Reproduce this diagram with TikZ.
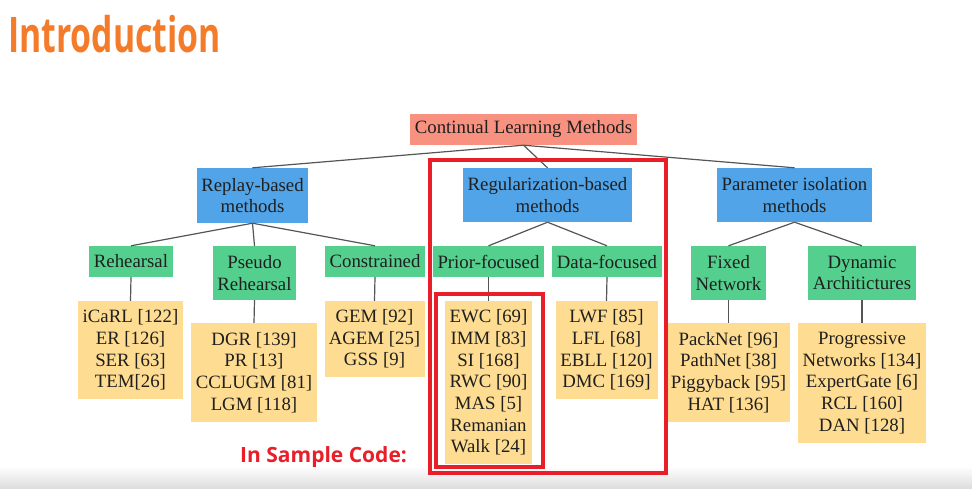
\documentclass[tikz,border=0pt]{standalone}
\usepackage{fontspec}
\setmainfont{Liberation Serif}
\newfontfamily\titlefont[FakeStretch=0.69]{Open Sans}
\newfontfamily\notefont{Open Sans}
\definecolor{introorange}{RGB}{244,123,42}
\definecolor{framered}{RGB}{232,30,40}
\definecolor{rootfill}{RGB}{249,145,128}
\definecolor{methodfill}{RGB}{82,164,232}
\definecolor{familyfill}{RGB}{84,207,141}
\definecolor{paperfill}{RGB}{254,220,145}
\definecolor{edgegrey}{RGB}{85,85,85}
\tikzset{
    box/.style={inner sep=0pt, align=center, text=black!88, font=\fontsize{18.8}{21.7}\selectfont},
    rootbox/.style={box, fill=rootfill},
    methodbox/.style={box, fill=methodfill, minimum height=54pt},
    familybox/.style={box, fill=familyfill},
    paperbox/.style={box, fill=paperfill},
    branch/.style={draw=edgegrey, line width=1.2pt},
    redframe/.style={draw=framered, line width=3.3pt}
}
\begin{document}
\begin{tikzpicture}[x=1pt, y=-1pt]
        \useasboundingbox (0,0) rectangle (972,488);
        \shade[top color=white, bottom color=black!13] (0,466) rectangle (972,488);
        \node[anchor=base west, text=introorange, font=\titlefont\bfseries\fontsize{49}{50}\selectfont, inner sep=0pt] (title) at (8,52) {Introduction};
        \node[rootbox, minimum width=227pt, minimum height=31pt] (clm) at (523.5,129.5) {Continual Learning Methods};
        \node[methodbox, minimum width=111pt, minimum height=55pt] (replay) at (252.5,195.5) {Replay-based\\methods};
        \node[methodbox, minimum width=169pt] (reg) at (547.5,195) {Regularization-based\\methods};
        \node[methodbox, minimum width=155pt] (param) at (794.5,195) {Parameter isolation\\methods};
        \node[familybox, minimum width=84pt, minimum height=31pt] (rehearsal) at (131,261.5) {Rehearsal};
        \node[familybox, minimum width=83pt, minimum height=54pt] (pseudo) at (254.5,273) {Pseudo\\Rehearsal};
        \node[familybox, minimum width=100pt, minimum height=31pt] (constrained) at (375,261.5) {Constrained};
        \node[familybox, minimum width=111pt, minimum height=31pt] (prior) at (488.5,261.5) {Prior-focused};
        \node[familybox, minimum width=110pt, minimum height=31pt] (datafoc) at (607,261.5) {Data-focused};
        \node[familybox, minimum width=75pt, minimum height=54pt] (fixed) at (728.5,273) {Fixed\\Network};
        \node[familybox, minimum width=108pt, minimum height=54pt] (dynamic) at (862,273) {Dynamic\\Architictures};
        \node[paperbox, minimum width=105pt, minimum height=98pt] (rehearsalp) at (130.5,350) {iCaRL [122]\\ER [126]\\SER [63]\\TEM[26]};
        \node[paperbox, minimum width=126pt, minimum height=99pt] (pseudop) at (254,372.5) {DGR [139]\\PR [13]\\CCLUGM [81]\\LGM [118]};
        \node[paperbox, minimum width=100pt, minimum height=76pt] (constrainedp) at (374.5,339) {GEM [92]\\AGEM [25]\\GSS [9]};
        \node[paperbox, minimum width=87pt, minimum height=163pt] (priorp) at (488.5,382.5) {EWC [69]\\IMM [83]\\SI [168]\\RWC [90]\\MAS [5]\\Remanian\\Walk [24]};
        \node[paperbox, minimum width=102pt, minimum height=98pt] (datap) at (606.5,350) {LWF [85]\\LFL [68]\\EBLL [120]\\DMC [169]};
        \node[paperbox, minimum width=122pt, minimum height=99pt] (fixedp) at (728.5,372.5) {PackNet [96]\\PathNet [38]\\Piggyback [95]\\HAT [136]};
        \node[paperbox, minimum width=128pt, minimum height=120pt] (dynamicp) at (862,383) {Progressive\\Networks [134]\\ExpertGate [6]\\RCL [160]\\DAN [128]};
        \draw[branch] (clm.south) -- (replay.north);
        \draw[branch] (clm.south) -- (reg.north);
        \draw[branch] (clm.south) -- (param.north);
        \draw[branch] (replay.south) -- (rehearsal.north);
        \draw[branch] (replay.south) -- (pseudo.north);
        \draw[branch] (replay.south) -- (constrained.north);
        \draw[branch] (reg.south) -- (prior.north);
        \draw[branch] (reg.south) -- (datafoc.north);
        \draw[branch] (param.south) -- (fixed.north);
        \draw[branch] (param.south) -- (dynamic.north);
        \draw[branch] (rehearsal.south) -- (rehearsalp.north);
        \draw[branch] (pseudo.south) -- (pseudop.north);
        \draw[branch] (constrained.south) -- (constrainedp.north);
        \draw[branch] (prior.south) -- (priorp.north);
        \draw[branch] (datafoc.south) -- (datap.north);
        \draw[branch] (fixed.south) -- (fixedp.north);
        \draw[branch] (dynamic.south) -- (dynamicp.north);
        \draw[redframe] (430,160) rectangle (666,473);
        \draw[redframe] (436,294) rectangle (543,467);
        \node[anchor=base west, text=framered, font=\notefont\bfseries\fontsize{21}{22}\selectfont, inner sep=0pt] (samplecode) at (240,462) {In Sample Code:};
\end{tikzpicture}
\end{document}
